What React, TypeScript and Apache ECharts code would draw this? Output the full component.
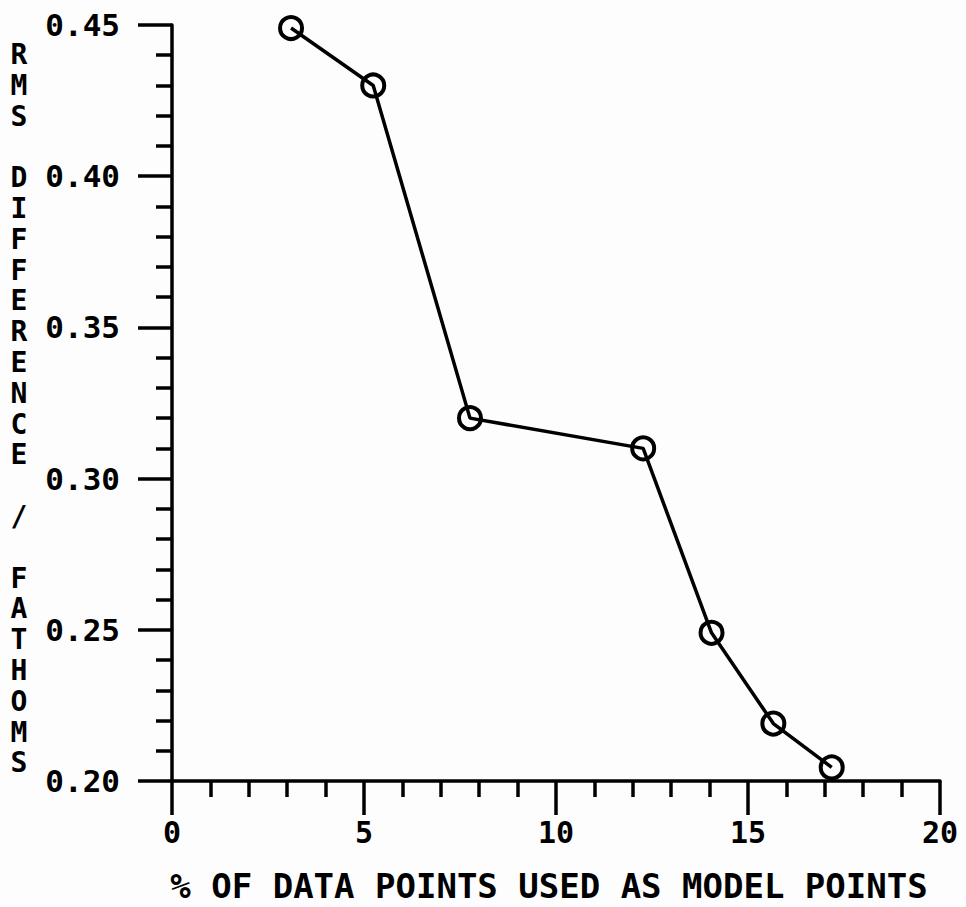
import React, { useEffect, useRef } from "react";
import * as echarts from "echarts";

const percentPoints = [3.1, 5.24, 7.76, 12.27, 14.05, 15.66, 17.18];
const rmsDifference = [0.449, 0.43, 0.32, 0.31, 0.249, 0.219, 0.2045];
const yAxisTitle = "RMS DIFFERENCE / FATHOMS";
const xAxisTitle = "% OF DATA POINTS USED AS MODEL POINTS";

const FONT = "'DejaVu Sans Mono', 'Liberation Mono', monospace";

export default function App() {
  const ref = useRef<HTMLDivElement>(null);
  useEffect(() => {
    document.body.style.margin = "0";
    if (!ref.current) return;
    const chart = echarts.init(ref.current, null, { renderer: "svg" });
    const data = percentPoints.map((x, i) => [x, rmsDifference[i]]);
    const verticalTitle = yAxisTitle.split("").join("\n");
    chart.setOption({
      animation: false,
      backgroundColor: "#fdfdfd",
      grid: { left: 172, top: 25, right: 26, bottom: 126, containLabel: false },
      xAxis: {
        type: "value",
        min: 0,
        max: 20,
        interval: 5,
        axisLine: { show: true, onZero: false, lineStyle: { color: "#000", width: 3.5 } },
        axisTick: { show: true, length: 34, lineStyle: { color: "#000", width: 3.5 } },
        minorTick: { show: true, splitNumber: 5, length: 16, lineStyle: { color: "#000", width: 3.5 } },
        splitLine: { show: false },
        axisLabel: {
          margin: 36,
          color: "#000",
          fontFamily: FONT,
          fontWeight: "bold",
          fontSize: 30,
          formatter: (v: number) => String(v),
        },
      },
      yAxis: {
        type: "value",
        min: 0.2,
        max: 0.45,
        interval: 0.05,
        axisLine: { show: true, onZero: false, lineStyle: { color: "#000", width: 3.5 } },
        axisTick: { show: true, length: 34, lineStyle: { color: "#000", width: 3.5 } },
        minorTick: { show: true, splitNumber: 5, length: 16, lineStyle: { color: "#000", width: 3.5 } },
        splitLine: { show: false },
        axisLabel: {
          margin: 52,
          color: "#000",
          fontFamily: FONT,
          fontWeight: "bold",
          fontSize: 31,
          formatter: (v: number) => v.toFixed(2),
        },
      },
      series: [
        {
          type: "line",
          data,
          symbol: "circle",
          symbolSize: 22,
          showSymbol: true,
          lineStyle: { color: "#000", width: 3.5 },
          itemStyle: { color: "rgba(0,0,0,0)", borderColor: "#000", borderWidth: 4 },
        },
      ],
      graphic: [
        {
          type: "text",
          x: 19,
          y: 39,
          style: {
            text: verticalTitle,
            fontFamily: FONT,
            fontWeight: "bold",
            fontSize: 28,
            lineHeight: 30.8,
            fill: "#000",
            align: "center",
            verticalAlign: "top",
          },
        },
        {
          type: "text",
          x: 549,
          y: 886,
          style: {
            text: xAxisTitle,
            fontFamily: FONT,
            fontWeight: "bold",
            fontSize: 34,
            fill: "#000",
            align: "center",
            verticalAlign: "middle",
          },
        },
      ],
    });
    return () => chart.dispose();
  }, []);
  return <div ref={ref} style={{ width: 966, height: 907 }} />;
}
